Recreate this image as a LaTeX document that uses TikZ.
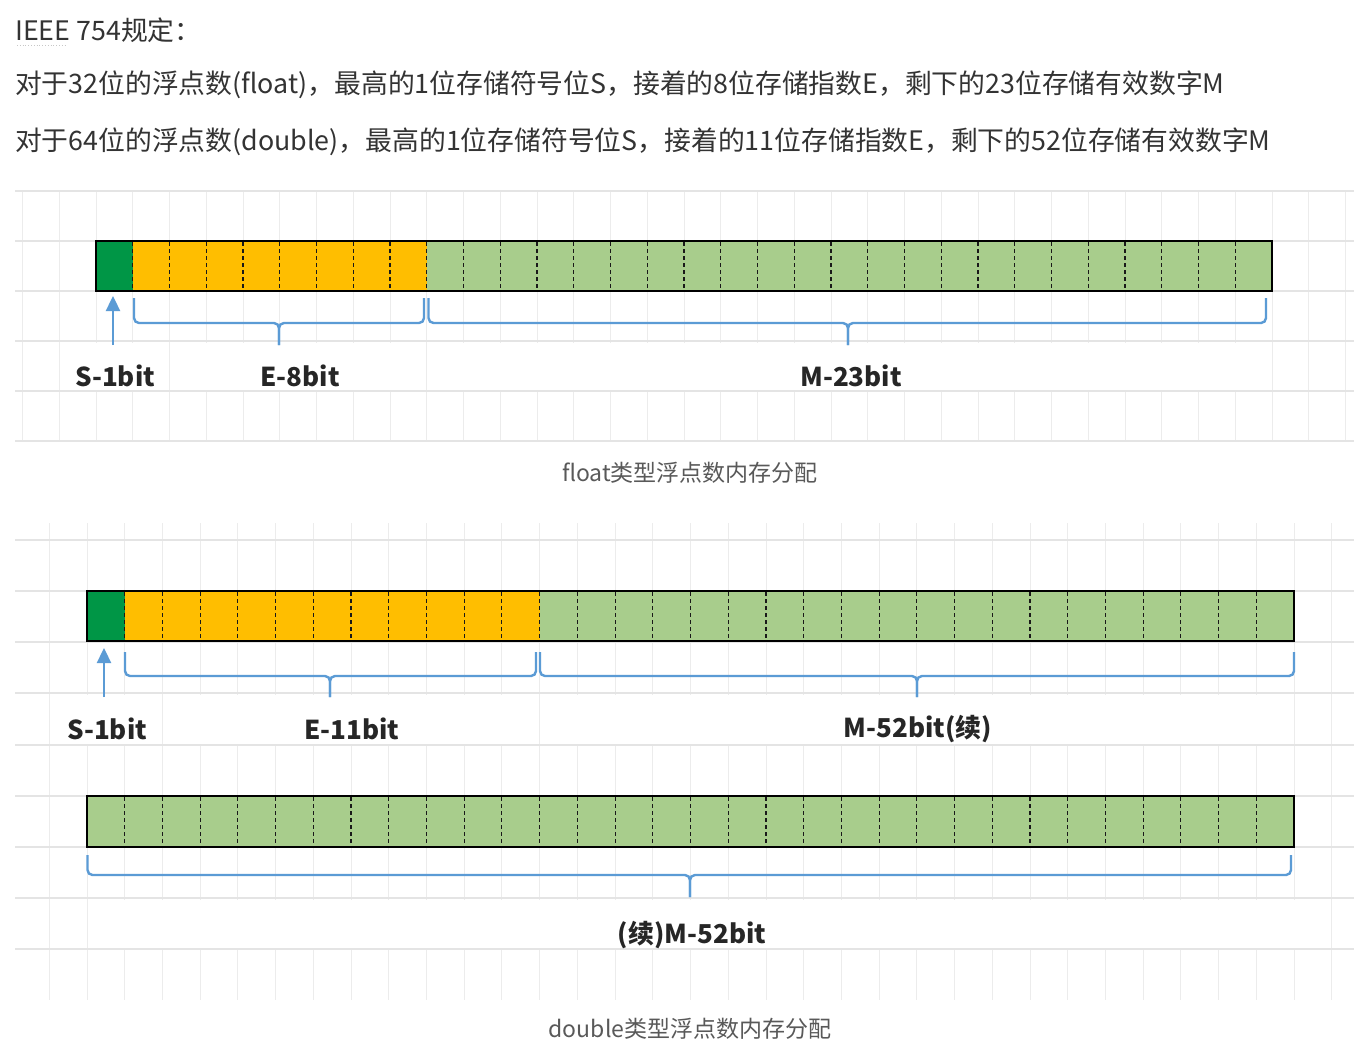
\documentclass[tikz,border=0pt]{standalone}
\usepackage{fontspec}
\setmainfont{Noto Sans CJK SC}
\usetikzlibrary{arrows.meta}
\definecolor{sgreen}{RGB}{0,150,70}
\definecolor{eorange}{RGB}{255,190,0}
\definecolor{lgreen}{RGB}{168,205,140}
\definecolor{bblue}{RGB}{91,155,213}
\definecolor{gridc}{RGB}{228,228,228}
\definecolor{gridvc}{RGB}{236,236,236}
\begin{document}
\begin{tikzpicture}[x=1pt,y=-1pt,
  gridh/.style={draw=gridc, line width=1.6pt},
  gridv/.style={draw=gridvc, line width=0.9pt},
  barframe/.style={draw=black, line width=1.8pt},
  divider/.style={draw=black!90, line width=1.1pt, dash pattern=on 4pt off 3pt},
  brace/.style={draw=bblue, line width=2.4pt, rounded corners=5pt},
  uparrow/.style={draw=bblue, line width=2.4pt, -{Triangle[width=14pt,length=15pt]}},
  lab/.style={font=\bfseries\fontsize{26}{30}\selectfont, text=black!85, inner sep=0pt},
  body/.style={font=\fontsize{26.8}{31}\selectfont, anchor=west, inner sep=0pt, text=black!80},
  captext/.style={font=\fontsize{23}{27}\selectfont, text=black!65, inner sep=0pt},
  hide/.style={fill=white, draw=none}
]
\useasboundingbox (0,0) rectangle (1354,1058);
\fill[white] (0,0) rectangle (1354,1058);

% ---------- header text ----------
\node[body] (t1) at (15,30) {IEEE 754规定：};
\draw[black!22, line width=0.8pt, dash pattern=on 0.8pt off 2pt] (17,45) -- (67,45);
\node[body] (t2) at (15,85) {对于32位的浮点数(float)，最高的1位存储符号位S，接着的8位存储指数E，剩下的23位存储有效数字M};
\node[body] (t3) at (15,142) {对于64位的浮点数(double)，最高的1位存储符号位S，接着的11位存储指数E，剩下的52位存储有效数字M};

% ---------- float grid ----------
\foreach \k in {-2,...,34} \draw[gridv] ({96+\k*36.75},190) -- ({96+\k*36.75},442);
\foreach \y in {191,241,291,341,391,441} \draw[gridh] (15,\y) -- (1354,\y);
\fill[hide] (61,342.5) rectangle (168,389.5);
\fill[hide] (171,342.5) rectangle (425,389.5);
\fill[hide] (428.5,342.5) rectangle (1270.5,389.5);

% ---------- float bar ----------
\fill[sgreen] (96,241) rectangle (132.75,291);
\fill[eorange] (132.75,241) rectangle (426.75,291);
\fill[lgreen] (426.75,241) rectangle (1272,291);
\foreach \k in {1,...,31} \draw[divider] ({96+\k*36.75},242) -- ({96+\k*36.75},290);
\draw[barframe] (96,241) rectangle (1272,291);

% float braces
\coordinate (fsb) at (113,345); \coordinate (fst) at (113,296);
\coordinate (fe1) at (134,298); \coordinate (fe2) at (424,298);
\coordinate (fem) at (279,323); \coordinate (fet) at (279,345);
\coordinate (fm1) at (428.5,298); \coordinate (fm2) at (1266,298);
\coordinate (fmm) at (848,323); \coordinate (fmt) at (848,345);
\draw[uparrow] (fsb) -- (fst);
\draw[brace] (fe1) |- (fem) -- (fet);
\draw[brace] (fe2) |- (fem) -- (fet);
\draw[brace] (fm1) |- (fmm) -- (fmt);
\draw[brace] (fm2) |- (fmm) -- (fmt);

\node[lab] (fS) at (115,376) {S-1bit};
\node[lab] (fE) at (300,376) {E-8bit};
\node[lab] (fM) at (851,376) {M-23bit};
\node[captext] (fcap) at (690,473) {float类型浮点数内存分配};

% ---------- double grid ----------
\foreach \k in {-1,...,33} \draw[gridv] ({87+\k*37.72},523) -- ({87+\k*37.72},1000);
\foreach \y in {540,591,642,693,745,796,847,898,949} \draw[gridh] (15,\y) -- (1354,\y);
\fill[hide] (51,694.5) rectangle (160.5,744);
\fill[hide] (164,694.5) rectangle (538,744);
\fill[hide] (541.5,694.5) rectangle (1292.5,744);
\fill[hide] (89,899.5) rectangle (1330,948);

% ---------- double bar 1 ----------
\fill[sgreen] (87,591) rectangle (124.72,641);
\fill[eorange] (124.72,591) rectangle (539.92,641);
\fill[lgreen] (539.92,591) rectangle (1294,641);
\foreach \k in {1,...,31} \draw[divider] ({87+\k*37.72},592) -- ({87+\k*37.72},640);
\draw[barframe] (87,591) rectangle (1294,641);

\coordinate (dsb) at (104,697); \coordinate (dst) at (104,648);
\coordinate (de1) at (125,652); \coordinate (de2) at (536,652);
\coordinate (dem) at (330,676); \coordinate (det) at (330,697);
\coordinate (dm1) at (540,652); \coordinate (dm2) at (1294,652);
\coordinate (dmm) at (917,676); \coordinate (dmt) at (917,697);
\draw[uparrow] (dsb) -- (dst);
\draw[brace] (de1) |- (dem) -- (det);
\draw[brace] (de2) |- (dem) -- (det);
\draw[brace] (dm1) |- (dmm) -- (dmt);
\draw[brace] (dm2) |- (dmm) -- (dmt);

\node[lab] (dS) at (107,729) {S-1bit};
\node[lab] (dE) at (352,729) {E-11bit};
\node[lab] (dM) at (918,729) {M-52bit(续)};

% ---------- double bar 2 ----------
\fill[lgreen] (87,796) rectangle (1294,847);
\foreach \k in {1,...,31} \draw[divider] ({87+\k*37.72},797) -- ({87+\k*37.72},846);
\draw[barframe] (87,796) rectangle (1294,847);

\coordinate (d21) at (87.5,855); \coordinate (d22) at (1291,855);
\coordinate (d2m) at (690,875); \coordinate (d2t) at (690,897);
\draw[brace] (d21) |- (d2m) -- (d2t);
\draw[brace] (d22) |- (d2m) -- (d2t);

\node[lab] (d2M) at (692,935) {(续)M-52bit};
\node[captext] (dcap) at (690,1029) {double类型浮点数内存分配};
\end{tikzpicture}
\end{document}
